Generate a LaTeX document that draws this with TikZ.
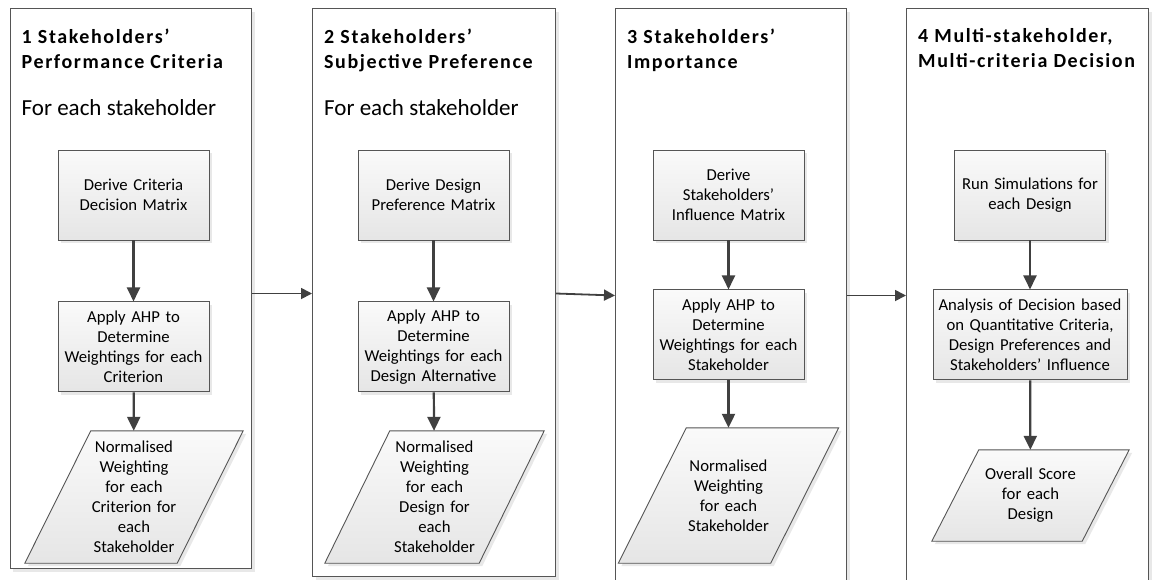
\documentclass[tikz,border=0pt]{standalone}
\usepackage{fontspec}
\setmainfont{Carlito}
\newfontfamily\headfont{Carlito}[LetterSpace=8]
\usetikzlibrary{positioning,shadows,arrows.meta,backgrounds}

\pgfdeclarelayer{bottom}
\pgfsetlayers{bottom,background,main}

\definecolor{edgegray}{HTML}{555555}
\definecolor{arrowgray}{HTML}{404040}

\tikzset{
  boxshadow/.style={drop shadow={shadow xshift=3pt, shadow yshift=-3pt, opacity=0.18}},
  panel/.style={rectangle, draw=edgegray, line width=1pt, fill=white, anchor=north west,
    inner sep=0pt, boxshadow},
  paneltitle/.style={anchor=north west, inner sep=0pt, align=left,
    font=\headfont\bfseries\fontsize{20}{25}\selectfont},
  panelnote/.style={anchor=north west, inner sep=0pt, font=\fontsize{23}{27}\selectfont},
  procbox/.style={rectangle, draw=edgegray, line width=0.9pt, top color=black!2,
    bottom color=black!10, minimum width=151pt, minimum height=90pt, text width=145pt,
    align=center, inner sep=0pt, font=\fontsize{16.7}{20}\selectfont, boxshadow},
  datanode/.style={rectangle, minimum width=152pt, text width=145pt, align=center,
    inner sep=0pt, font=\fontsize{16.7}{20}\selectfont},
  datashape/.style={draw=edgegray, line width=0.9pt, top color=black!2,
    bottom color=black!10, boxshadow},
  flow/.style={draw=arrowgray, line width=2.2pt, -{Triangle[length=14pt,width=13pt]}},
  handover/.style={draw=arrowgray, line width=1.8pt, -{Triangle[length=11pt,width=11pt]}},
}

% slanted outline behind a data node: #1 node, #2 half slant
\newcommand{\slantframe}[2]{%
  \begin{pgfonlayer}{background}
    \path[datashape] ([xshift=#2pt]#1.north west) -- ([xshift=#2pt]#1.north east)
      -- ([xshift=-#2pt]#1.south east) -- ([xshift=-#2pt]#1.south west) -- cycle;
  \end{pgfonlayer}}

\begin{document}
\begin{tikzpicture}[x=1pt,y=-1pt]
  \useasboundingbox (0,0) rectangle (1152,579);
  \clip (0,0) rectangle (1152,579);

  % the four stages
  \begin{pgfonlayer}{bottom}
    \node[panel, minimum width=241.5pt, minimum height=560pt] (p1) at (9.5,8) {};
    \node[panel, minimum width=243pt, minimum height=568pt] (p2) at (312,8) {};
    \node[panel, minimum width=231pt, minimum height=580pt] (p3) at (615,8) {};
    \node[panel, minimum width=242pt, minimum height=580pt] (p4) at (906,8) {};
  \end{pgfonlayer}

  \node[paneltitle, below right=20.5pt and 12pt of p1.north west] (t1) {1 Stakeholders’\\Performance Criteria};
  \node[paneltitle, below right=20.5pt and 12pt of p2.north west] (t2) {2 Stakeholders’\\Subjective Preference};
  \node[paneltitle, below right=20.5pt and 12pt of p3.north west] (t3) {3 Stakeholders’\\Importance};
  \node[paneltitle, below right=20.5pt and 12pt of p4.north west] (t4) {4 Multi-stakeholder,\\Multi-criteria Decision};

  \node[panelnote, below right=91pt and 12pt of p1.north west] (n1) {For each stakeholder};
  \node[panelnote, below right=91pt and 12pt of p2.north west] (n2) {For each stakeholder};

  % stage 1
  \node[procbox] (der1) at (133.5,195) {Derive Criteria\\Decision Matrix};
  \node[procbox, below=61pt of der1] (ahp1) {Apply AHP to\\Determine\\Weightings for each\\Criterion};
  \node[datanode, minimum height=132pt] (out1) at (134,497) {Normalised\\Weighting\\for each\\Criterion for\\each\\Stakeholder};
  \slantframe{out1}{33}

  % stage 2
  \node[procbox] (der2) at (433.5,195) {Derive Design\\Preference Matrix};
  \node[procbox, below=61pt of der2] (ahp2) {Apply AHP to\\Determine\\Weightings for each\\Design Alternative};
  \node[datanode, minimum height=132pt, minimum width=154pt] (out2) at (434.5,497) {Normalised\\Weighting\\for each\\Design for\\each\\Stakeholder};
  \slantframe{out2}{32.5}

  % stage 3
  \node[procbox] (der3) at (728.5,195) {Derive\\Stakeholders’\\Influence Matrix};
  \node[procbox, below=49pt of der3] (ahp3) {Apply AHP to\\Determine\\Weightings for each\\Stakeholder};
  \node[datanode, minimum height=135pt] (out3) at (728.5,495.5) {Normalised\\Weighting\\for each\\Stakeholder};
  \slantframe{out3}{34}

  % stage 4
  \node[procbox] (sim4) at (1030,195) {Run Simulations for\\each Design};
  \node[procbox, below=49pt of sim4, minimum width=194pt, text width=190pt] (ana4) {Analysis of Decision based\\on Quantitative Criteria,\\Design Preferences and\\Stakeholders’ Influence};
  \node[datanode, minimum height=91pt, minimum width=150pt] (out4) at (1030.5,495.5) {Overall Score\\for each\\Design};
  \slantframe{out4}{23.5}

  \draw[flow] (der1) -- (ahp1);
  \draw[flow] (ahp1) -- (out1);
  \draw[flow] (der2) -- (ahp2);
  \draw[flow] (ahp2) -- (out2);
  \draw[flow] (der3) -- (ahp3);
  \draw[flow] (ahp3) -- (out3);
  \draw[flow] (sim4) -- (ana4);
  \draw[flow] (ana4) -- (out4);

  \draw[handover] ([yshift=-5pt]p1.east) -- ([yshift=-1pt]p2.west);
  \draw[handover] ([yshift=-1pt]p2.east) -- ([yshift=3pt]p3.west);
  \draw[handover] ([yshift=3pt]p3.east) -- ([yshift=3pt]p4.west);
\end{tikzpicture}
\end{document}
